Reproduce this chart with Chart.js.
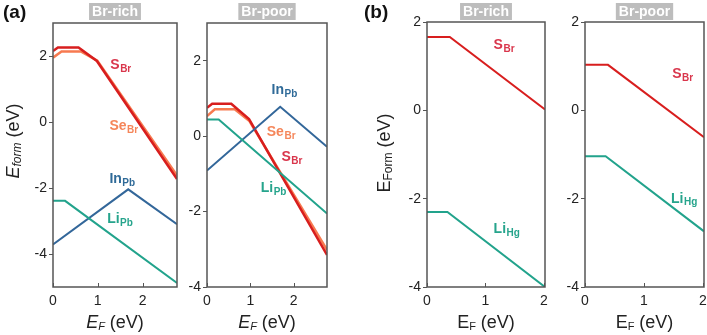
<!DOCTYPE html>
<html>
<head>
<meta charset="utf-8">
<script src="https://cdn.jsdelivr.net/npm/chart.js@4.4.0/dist/chart.umd.min.js"></script>
<style>
    body { margin: 0; background: #fff; }
    #wrap { position: relative; width: 707px; height: 335px; overflow: hidden; }
    canvas { position: absolute; left: 0; top: 0; }
</style>
</head>
<body>
<div id="wrap">
    <canvas id="pA1" width="740" height="335"></canvas>
    <canvas id="pA2" width="740" height="335"></canvas>
    <canvas id="pB1" width="740" height="335"></canvas>
    <canvas id="pB2" width="740" height="335"></canvas>
</div>
<script>
// ---- data: [E_F, E_form] kink points ----
// (a) Br-rich
const aRich_SBr  = [[0, 2.15], [0.11, 2.26], [0.57, 2.26], [0.98, 1.85], [2.77, -1.73]];
const aRich_SeBr = [[0, 1.95], [0.19, 2.14], [0.62, 2.14], [0.99, 1.86], [2.77, -1.62]];
const aRich_InPb = [[0, -3.71], [1.68, -2.04], [2.77, -3.10]];
const aRich_LiPb = [[0, -2.39], [0.27, -2.39], [2.77, -4.88]];
// (a) Br-poor
const aPoor_SBr  = [[0, 0.75], [0.12, 0.86], [0.56, 0.86], [0.97, 0.45], [2.77, -3.15]];
const aPoor_SeBr = [[0, 0.53], [0.18, 0.71], [0.64, 0.71], [0.98, 0.40], [2.77, -3.02]];
const aPoor_InPb = [[0, -0.91], [1.69, 0.78], [2.77, -0.28]];
const aPoor_LiPb = [[0, 0.44], [0.27, 0.44], [2.77, -2.05]];
// (b) Br-rich
const bRich_SBr  = [[0, 1.66], [0.39, 1.66], [2.02, 0.02]];
const bRich_LiHg = [[0, -2.30], [0.35, -2.30], [2.02, -4.0]];
// (b) Br-poor
const bPoor_SBr  = [[0, 1.03], [0.39, 1.03], [2.02, -0.61]];
const bPoor_LiHg = [[0, -1.04], [0.35, -1.04], [2.02, -2.74]];

const xTicks = [0, 1, 2];
const yTicks = [-4, -2, 0, 2];
const bandGapA = 2.77;
const bandGapB = 2.02;

// label anchors (data coords) for the defect names
const aRichLabels = [["S", "Br", 1.28, 1.73, "#d9364c"], ["Se", "Br", 1.26, -0.12, "#f5865a"],
                     ["In", "Pb", 1.26, -1.73, "#2f6a98"], ["Li", "Pb", 1.21, -2.94, "#26a48c"]];
const aPoorLabels = [["In", "Pb", 1.49, 1.21, "#2f6a98"], ["Se", "Br", 1.38, 0.10, "#f5865a"],
                     ["S", "Br", 1.72, -0.55, "#d9364c"], ["Li", "Pb", 1.24, -1.37, "#26a48c"]];
const bRichLabels = [["S", "Br", 1.14, 1.48, "#d9364c"], ["Li", "Hg", 1.14, -2.7, "#26a48c"]];
const bPoorLabels = [["S", "Br", 1.48, 0.82, "#d9364c"], ["Li", "Hg", 1.46, -2.0, "#26a48c"]];

const RED = "#d81e1e", ORANGE = "#f77a50", BLUE = "#33679a", TEAL = "#22a38c";
const FONT = "Liberation Sans, Arial, sans-serif";
const CW = 740; // canvas width (wider than the page so edge labels don't squeeze the plot)

function toXY(arr) {
    return arr.map(p => ({ x: p[0], y: p[1] }));
}

// draws runs of text with different fonts one after another, centred on (x, y)
function richText(ctx, parts, x, y) {
    let w = 0;
    parts.forEach(p => { ctx.font = p.font; w += ctx.measureText(p.t).width; });
    let cx = x - w / 2;
    ctx.textBaseline = "middle";
    ctx.textAlign = "left";
    parts.forEach(p => {
        ctx.font = p.font;
        ctx.fillText(p.t, cx, y + (p.dy || 0));
        cx += ctx.measureText(p.t).width;
    });
}

function makePanel(id, cfg) {
    const box = cfg.box;
    const deco = {
        id: "deco",
        afterDraw(chart) {
            const ctx = chart.ctx;
            const a = chart.chartArea;
            const xs = chart.scales.x, ys = chart.scales.y;
            ctx.save();
            // frame
            ctx.strokeStyle = "#555";
            ctx.lineWidth = 1.5;
            ctx.strokeRect(a.left, a.top, a.right - a.left, a.bottom - a.top);
            // inner x ticks
            ctx.lineWidth = 1;
            xTicks.forEach(v => {
                const px = Math.round(xs.getPixelForValue(v)) + 0.5;
                ctx.beginPath();
                ctx.moveTo(px, a.bottom);
                ctx.lineTo(px, a.bottom - 4);
                ctx.stroke();
            });
            // defect labels
            cfg.labels.forEach(l => {
                const px = xs.getPixelForValue(l[2]);
                const py = ys.getPixelForValue(l[3]);
                ctx.fillStyle = l[4];
                ctx.textBaseline = "middle";
                ctx.textAlign = "left";
                ctx.font = "bold 14px " + FONT;
                ctx.fillText(l[0], px, py);
                const w = ctx.measureText(l[0]).width;
                ctx.font = "bold 10px " + FONT;
                ctx.fillText(l[1], px + w + 0.5, py + 4);
            });
            // title tag
            const mid = (a.left + a.right) / 2;
            ctx.font = "bold 14px " + FONT;
            const tw = ctx.measureText(cfg.title).width;
            ctx.fillStyle = "#bdbdbd";
            ctx.fillRect(mid - tw / 2 - 3, 3, tw + 6, 17);
            ctx.fillStyle = "#fff";
            ctx.textAlign = "center";
            ctx.textBaseline = "middle";
            ctx.fillText(cfg.title, mid, 12);
            // axis titles
            ctx.fillStyle = "#222";
            const it = cfg.italic ? "italic " : "";
            richText(ctx, [
                { t: "E", font: it + "18px " + FONT },
                { t: "F", font: it + "11px " + FONT, dy: 4 },
                { t: " (eV)", font: "18px " + FONT }
            ], mid, 323);
            if (cfg.yTitle) {
                ctx.save();
                ctx.translate(cfg.yTitle.x, cfg.yTitle.y);
                ctx.rotate(-Math.PI / 2);
                richText(ctx, [
                    { t: "E", font: it + "18px " + FONT },
                    { t: cfg.yTitle.sub, font: it + "12px " + FONT, dy: 4 },
                    { t: " (eV)", font: "18px " + FONT }
                ], 0, 0);
                ctx.restore();
            }
            if (cfg.letter) {
                ctx.font = "bold 19px " + FONT;
                ctx.textAlign = "left";
                ctx.textBaseline = "top";
                ctx.fillStyle = "#111";
                ctx.fillText(cfg.letter.t, cfg.letter.x, 3);
            }
            ctx.restore();
        }
    };

    return new Chart(document.getElementById(id), {
        type: "line",
        data: {
            datasets: cfg.series.map(s => ({
                data: toXY(s.pts),
                borderColor: s.color,
                borderWidth: s.width || 2,
                pointRadius: 0,
                fill: false,
                tension: 0
            }))
        },
        options: {
            responsive: false,
            animation: false,
            layout: {
                padding: { left: box.left - 26, right: CW - box.right, top: box.top, bottom: 335 - box.bottom - 22 }
            },
            plugins: { legend: { display: false }, tooltip: { enabled: false } },
            scales: {
                x: {
                    type: "linear",
                    min: 0,
                    max: cfg.xMax,
                    afterBuildTicks: s => { s.ticks = xTicks.map(v => ({ value: v })); },
                    afterFit: s => { s.height = 22; },
                    grid: { display: false, drawTicks: false },
                    border: { display: false },
                    ticks: { color: "#222", font: { size: 14, family: FONT }, padding: 6, maxRotation: 0 }
                },
                y: {
                    type: "linear",
                    min: cfg.yMin,
                    max: cfg.yMax,
                    afterBuildTicks: s => { s.ticks = yTicks.map(v => ({ value: v })); },
                    afterFit: s => { s.width = 26; },
                    grid: { drawOnChartArea: false, drawTicks: true, tickLength: 4, color: "#555" },
                    border: { display: false },
                    ticks: { color: "#222", font: { size: 14, family: FONT }, padding: 2 }
                }
            }
        },
        plugins: [deco]
    });
}

makePanel("pA1", {
    box: { left: 53, right: 177, top: 23, bottom: 287 },
    xMax: bandGapA, yMin: -5, yMax: 3,
    series: [
        { pts: aRich_LiPb, color: TEAL },
        { pts: aRich_InPb, color: BLUE },
        { pts: aRich_SBr, color: RED, width: 2.5 },
        { pts: aRich_SeBr, color: ORANGE, width: 2.5 }
    ],
    labels: aRichLabels, title: "Br-rich", italic: true,
    yTitle: { x: 14, y: 141, sub: "form" },
    letter: { t: "(a)", x: 3 }
});

makePanel("pA2", {
    box: { left: 207, right: 327, top: 23, bottom: 287 },
    xMax: bandGapA, yMin: -4, yMax: 3,
    series: [
        { pts: aPoor_LiPb, color: TEAL },
        { pts: aPoor_InPb, color: BLUE },
        { pts: aPoor_SBr, color: RED, width: 2.5 },
        { pts: aPoor_SeBr, color: ORANGE, width: 2.5 }
    ],
    labels: aPoorLabels, title: "Br-poor", italic: true
});

makePanel("pB1", {
    box: { left: 427, right: 545, top: 22, bottom: 287 },
    xMax: bandGapB, yMin: -4, yMax: 2,
    series: [
        { pts: bRich_SBr, color: RED },
        { pts: bRich_LiHg, color: TEAL }
    ],
    labels: bRichLabels, title: "Br-rich", italic: false,
    yTitle: { x: 385, y: 153, sub: "Form" },
    letter: { t: "(b)", x: 364 }
});

makePanel("pB2", {
    box: { left: 585, right: 704, top: 22, bottom: 287 },
    xMax: bandGapB, yMin: -4, yMax: 2,
    series: [
        { pts: bPoor_SBr, color: RED },
        { pts: bPoor_LiHg, color: TEAL }
    ],
    labels: bPoorLabels, title: "Br-poor", italic: false
});
</script>
</body>
</html>
